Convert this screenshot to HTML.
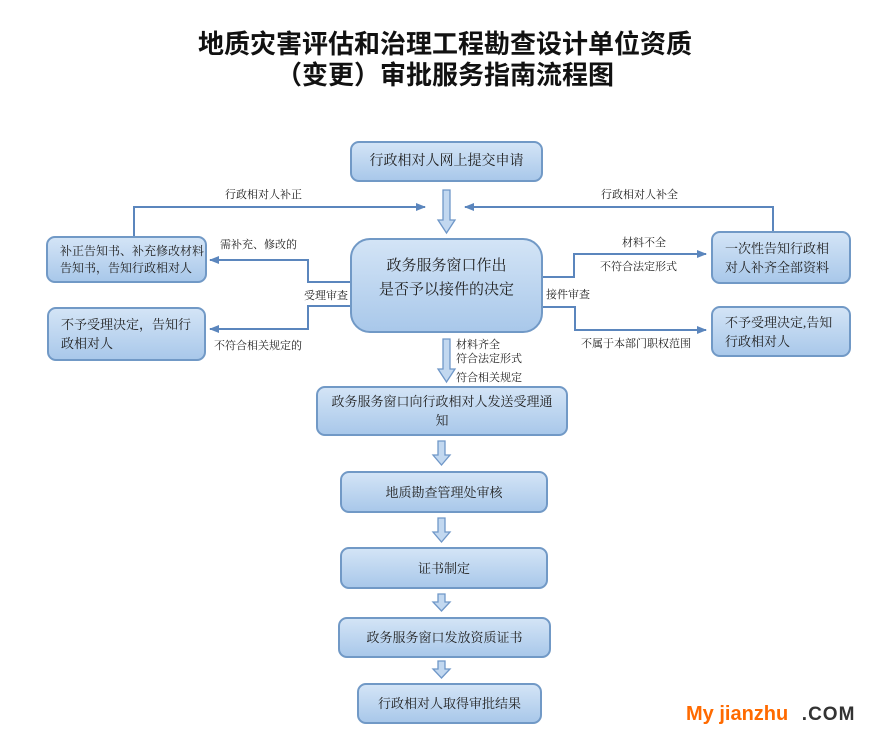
<!DOCTYPE html>
<html><head><meta charset="utf-8"><style>
body{margin:0;width:879px;height:738px;background:#fff;position:relative;overflow:hidden;font-family:"Liberation Serif","Noto Serif CJK SC","Noto Sans CJK SC",serif;color:#222}
.b{position:absolute;box-sizing:border-box;border:2px solid #7199c6;border-radius:9px;background:linear-gradient(#d3e4f6,#a9c8ea);display:flex;align-items:center;justify-content:center;text-align:center;font-size:13px;line-height:19px}
.l{position:absolute;font-size:11px;white-space:nowrap;line-height:13px}
.t{position:absolute;left:0;width:890px;text-align:center;font-family:"Noto Sans CJK SC",sans-serif;font-weight:bold;font-size:26px;color:#111;line-height:30px}
</style></head><body>
<div class="t" style="top:28px">地质灾害评估和治理工程勘查设计单位资质</div>
<div class="t" style="top:59px">（变更）审批服务指南流程图</div>
<svg width="879" height="738" style="position:absolute;left:0;top:0">
<defs><marker id="a" markerWidth="10" markerHeight="8" refX="9" refY="4" orient="auto" markerUnits="userSpaceOnUse"><path d="M0,0L10,4L0,8z" fill="#5b86bd"/></marker></defs>
<g fill="none" stroke="#5b86bd" stroke-width="2">
<path d="M134,236V207H425" marker-end="url(#a)"/>
<path d="M773,231V207H465" marker-end="url(#a)"/>
<path d="M350,282H308V260H210" marker-end="url(#a)"/>
<path d="M350,306H308V329H210" marker-end="url(#a)"/>
<path d="M542,277H574V254H706" marker-end="url(#a)"/>
<path d="M542,307H575V330H706" marker-end="url(#a)"/>
</g>
<g fill="#c2d8f0" stroke="#6f97c8" stroke-width="1.3">
<path d="M443,190h7v30h5l-8.5,13l-8.5-13h5z"/>
<path d="M443,339h7v30h5l-8.5,13l-8.5-13h5z"/>
<path d="M438,441h7v14h5l-8.5,10l-8.5-10h5z"/>
<path d="M438,518h7v14h5l-8.5,10l-8.5-10h5z"/>
<path d="M438,594h7v8h5l-8.5,9l-8.5-9h5z"/>
<path d="M438,661h7v8h5l-8.5,9l-8.5-9h5z"/>
</g>
</svg>
<div class="b" style="left:350px;top:141px;width:193px;height:41px;font-size:14px">行政相对人网上提交申请</div>
<div class="b" style="left:350px;top:238px;width:193px;height:95px;border-radius:20px;font-size:15px;line-height:24px;padding-bottom:16px">政务服务窗口作出<br>是否予以接件的决定</div>
<div class="b" style="left:46px;top:236px;width:161px;height:47px;font-size:12px;line-height:17px;justify-content:flex-start;text-align:left;padding-left:12px">补正告知书、补充修改材料<br>告知书，告知行政相对人</div>
<div class="b" style="left:47px;top:307px;width:159px;height:54px;justify-content:flex-start;text-align:left;padding-left:12px">不予受理决定，告知行<br>政相对人</div>
<div class="b" style="left:711px;top:231px;width:140px;height:53px;justify-content:flex-start;text-align:left;padding-left:12px">一次性告知行政相<br>对人补齐全部资料</div>
<div class="b" style="left:711px;top:306px;width:140px;height:51px;justify-content:flex-start;text-align:left;padding-left:12px">不予受理决定,告知<br>行政相对人</div>
<div class="b" style="left:316px;top:386px;width:252px;height:50px">政务服务窗口向行政相对人发送受理通<br>知</div>
<div class="b" style="left:340px;top:471px;width:208px;height:42px">地质勘查管理处审核</div>
<div class="b" style="left:340px;top:547px;width:208px;height:42px">证书制定</div>
<div class="b" style="left:338px;top:617px;width:213px;height:41px">政务服务窗口发放资质证书</div>
<div class="b" style="left:357px;top:683px;width:185px;height:41px">行政相对人取得审批结果</div>
<div class="l" style="left:225px;top:189px">行政相对人补正</div>
<div class="l" style="left:601px;top:189px">行政相对人补全</div>
<div class="l" style="left:220px;top:239px">需补充、修改的</div>
<div class="l" style="left:304px;top:290px">受理审查</div>
<div class="l" style="left:214px;top:340px">不符合相关规定的</div>
<div class="l" style="left:622px;top:237px">材料不全</div>
<div class="l" style="left:600px;top:261px">不符合法定形式</div>
<div class="l" style="left:546px;top:289px">接件审查</div>
<div class="l" style="left:581px;top:338px">不属于本部门职权范围</div>
<div class="l" style="left:456px;top:339px">材料齐全</div>
<div class="l" style="left:456px;top:353px">符合法定形式</div>
<div class="l" style="left:456px;top:372px">符合相关规定</div>
<div style="position:absolute;left:686px;top:703px;font-family:'Liberation Sans',sans-serif;font-weight:bold;font-size:20px;color:#ff6a00;white-space:nowrap">My jianzhu <span style="color:#333;font-size:19px;margin-left:8px;letter-spacing:1px">.COM</span></div>
</body></html>
